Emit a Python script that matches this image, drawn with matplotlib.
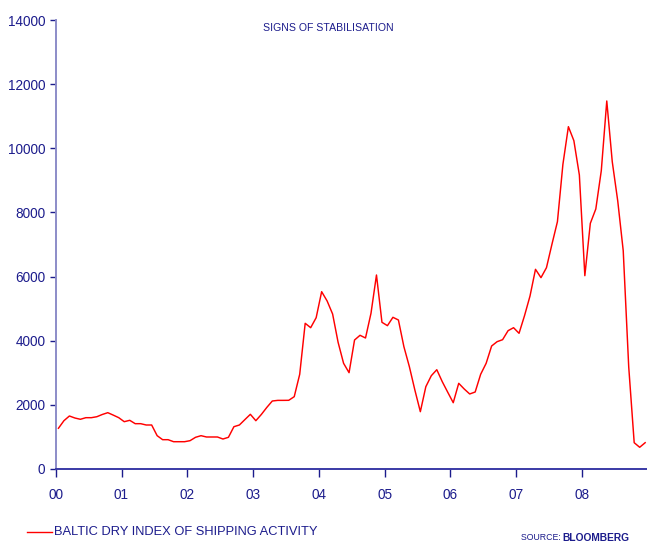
import numpy as np
import matplotlib
matplotlib.use("Agg")
import matplotlib.pyplot as plt

# Baltic Dry Index, monthly, Jan 2000 - Dec 2008
bdi = [
    1270, 1506, 1653, 1590, 1550, 1600, 1600, 1630, 1700, 1756, 1680, 1600,   # 2000
    1475, 1518, 1413, 1413, 1372, 1372, 1039, 914, 914, 851, 851, 851,        # 2001
    883, 988, 1039, 998, 998, 998, 935, 988, 1319, 1372, 1540, 1705,          # 2002
    1506, 1700, 1920, 2120, 2140, 2140, 2142, 2255, 2953, 4543, 4406, 4718,   # 2003
    5529, 5239, 4833, 3951, 3296, 3003, 4022, 4169, 4085, 4855, 6049, 4574,   # 2004
    4469, 4730, 4646, 3814, 3190, 2463, 1787, 2566, 2909, 3096, 2722, 2392,   # 2005
    2067, 2672, 2495, 2339, 2401, 2953, 3296, 3835, 3970, 4032, 4313, 4406,   # 2006
    4231, 4781, 5394, 6226, 5966, 6277, 7007, 7712, 9500, 10674, 10237, 9167, # 2007
    6028, 7660, 8107, 9302, 11475, 9582, 8357, 6807, 3190, 820, 677, 820,     # 2008
]
year_labels = ["00", "01", "02", "03", "04", "05", "06", "07", "08"]
y_ticks = [0, 2000, 4000, 6000, 8000, 10000, 12000, 14000]
title = "SIGNS OF STABILISATION"
series_name = "BALTIC DRY INDEX OF SHIPPING ACTIVITY"

navy = "#1c1c8c"
red = "#ff0000"

plt.rcParams["font.family"] = ["Liberation Sans", "DejaVu Sans"]

W, H = 647, 545
fig = plt.figure(figsize=(W / 100, H / 100), dpi=100)
left_px, zero_px, top_px = 55.7, 469, 20
year_px = 65.8
ax = fig.add_axes([left_px / W, (H - zero_px) / H, 1 - left_px / W, (zero_px - top_px) / H])

x = (np.arange(len(bdi)) + 0.5) / 12.0
ax.plot(x, bdi, color=red, lw=1.05)

ax.set_xlim(0, (W - left_px) / year_px)
ax.set_ylim(0, 14000)

ax.set_xticks(np.arange(len(year_labels)))
ax.set_xticklabels(year_labels)
ax.set_yticks(y_ticks)
ax.set_yticklabels([str(v) for v in y_ticks])

for s in ["top", "right"]:
    ax.spines[s].set_visible(False)
ax.spines["left"].set_color("#8c8cc8")
ax.spines["left"].set_linewidth(1.4)
ax.spines["bottom"].set_color("#3a3aa6")
ax.spines["bottom"].set_linewidth(1.4)

ax.tick_params(axis="y", direction="out", length=4, width=1.0, color=navy,
               labelcolor=navy, labelsize=9.8, pad=3.5)
ax.tick_params(axis="x", direction="out", length=6, width=1.0, color=navy,
               labelcolor=navy, labelsize=9.8, pad=8)

fig.text(328 / W, 1 - 28 / H, title, color=navy, fontsize=7.6,
         ha="center", va="center")

# legend entry
fig.add_artist(plt.Line2D([27 / W, 52 / W], [1 - 532 / H, 1 - 532 / H],
                          color=red, lw=1.0, transform=fig.transFigure))
fig.text(54 / W, 1 - 532 / H, series_name, color=navy, fontsize=9.3,
         ha="left", va="center")

# source note
src = fig.text(521 / W, 1 - 538 / H, "SOURCE: ", color=navy, fontsize=6.3,
               ha="left", va="center")
fig.canvas.draw()
bb = src.get_window_extent()
fig.text((bb.x1 - 1) / W, 1 - 538 / H, "BLOOMBERG", color=navy, fontsize=7.4,
         fontweight="bold", ha="left", va="center")

fig.savefig("out.png", dpi=100)
